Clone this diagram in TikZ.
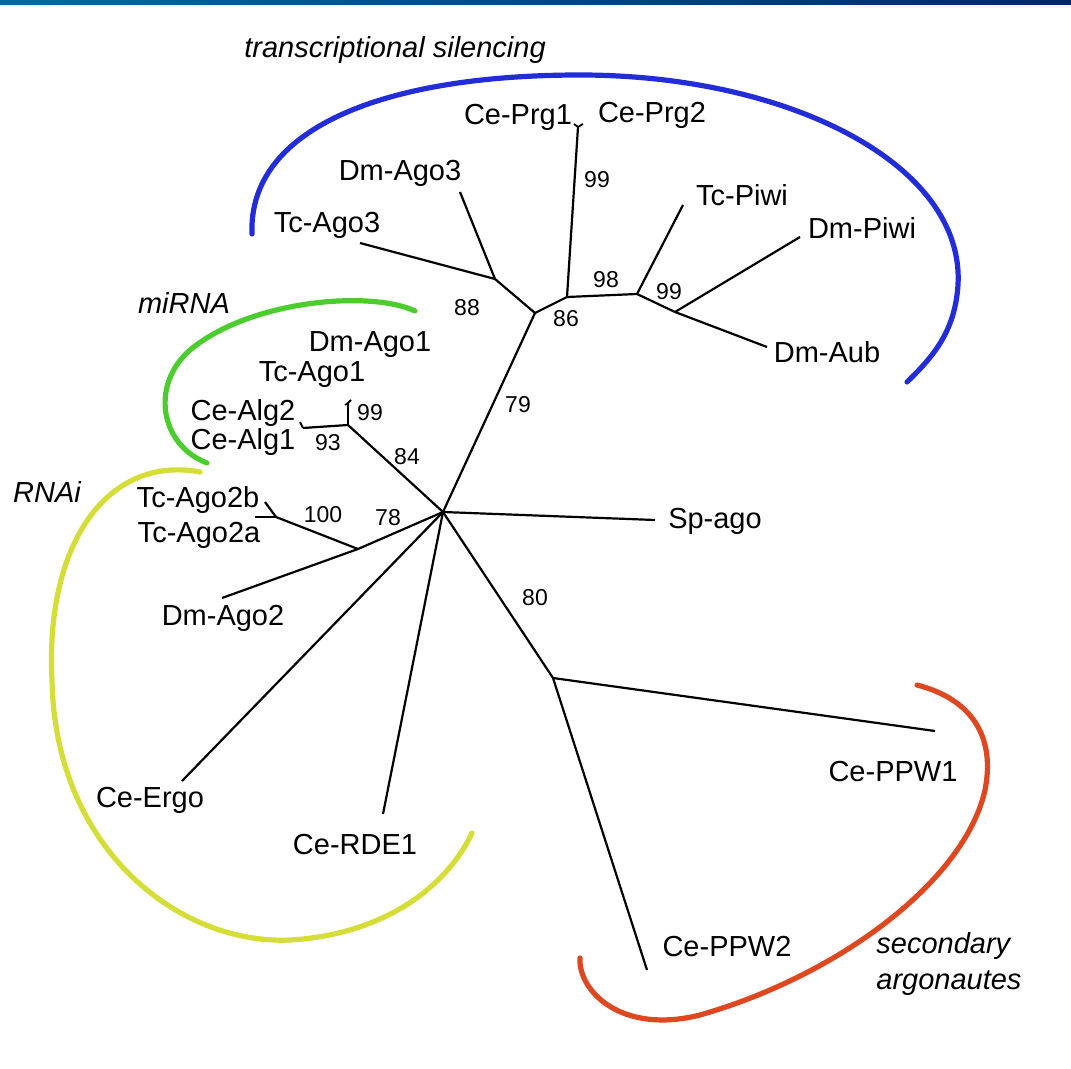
\documentclass[tikz,border=0pt]{standalone}
\usepackage{xcolor}
\usepackage{tikz}
\usepackage{fontspec}
\setmainfont{Liberation Sans}
\usetikzlibrary{calc,positioning}
\definecolor{barleft}{RGB}{0,108,158}
\definecolor{barright}{RGB}{0,38,104}
\definecolor{silblue}{RGB}{35,45,215}
\definecolor{mirgreen}{RGB}{75,205,45}
\definecolor{rnaiyellow}{RGB}{212,222,55}
\definecolor{secred}{RGB}{222,72,32}
\tikzset{%
  % Specifications for style of nodes:
  leaf/.style = {inner sep=0pt, font=\fontsize{14.5}{17}\selectfont},
  boot/.style = {inner sep=0pt, font=\fontsize{11.5}{14}\selectfont},
  clade/.style = {inner sep=0pt, align=left,
    font=\fontsize{14.5}{18}\selectfont\itshape},
  % Specifications for style of lines:
  branch/.style = {line width=1.1pt, line join=round},
  twig/.style = {line width=0.9pt},
  arcline/.style = {line width=2.6pt, line cap=round},
}

\begin{document}
\begin{tikzpicture}[x=0.5pt, y=-0.5pt]
        \fill[white] (0,0) rectangle (1071,1069);
        \shade[left color=barleft, right color=barright] (0,0) rectangle (1071,5);
        % Inner points of the tree
        \coordinate (root) at (443,512);
        \coordinate (n86) at (535,313);
        \coordinate (n88) at (495,279);
        \coordinate (n98) at (567,297);
        \coordinate (n99a) at (637,294);
        \coordinate (n99b) at (675,312);
        \coordinate (n84) at (348,425);
        \coordinate (n93) at (303,428);
        \coordinate (n99c) at (348,403);
        \coordinate (n78) at (358,549);
        \coordinate (n100) at (276,517);
        \coordinate (n80) at (553,678);
        \coordinate (nprg) at (578,127);
        % Tips of the branches
        \coordinate (tTcAgo3) at (360,243);
        \coordinate (tDmAgo3) at (460,192);
        \coordinate (tTcPiwi) at (683,205);
        \coordinate (tDmPiwi) at (800,237);
        \coordinate (tDmAub) at (767,347);
        \coordinate (tTcAgo2b) at (265,502);
        \coordinate (tTcAgo2a) at (255,517);
        \coordinate (tDmAgo2) at (222,598);
        \coordinate (tCeErgo) at (182,781);
        \coordinate (tCeRDE) at (383,814);
        \coordinate (tSpago) at (655,520);
        \coordinate (tPPW1) at (935,731);
        \coordinate (tPPW2) at (647,970);
        % Specification of nodes (position, etc.)
        \node (CePrgA) [leaf] at (518,117) {Ce-Prg1};
        \node (CePrgB) [leaf] at (652,115) {Ce-Prg2};
        \node (DmAgoC) [leaf] at (400,173) {Dm-Ago3};
        \node (TcAgoC) [leaf] at (327,225) {Tc-Ago3};
        \node (TcPiwi) [leaf] at (742,195) {Tc-Piwi};
        \node (DmPiwi) [leaf] at (862,228) {Dm-Piwi};
        \node (DmAub) [leaf] at (827,352) {Dm-Aub};
        \node (DmAgoA) [leaf] at (370,345) {Dm-Ago1};
        \node (TcAgoA) [leaf] at (312,375) {Tc-Ago1};
        \node (CeAlgB) [leaf] at (243,413) {Ce-Alg2};
        \node (CeAlgA) [leaf] at (243,442) {Ce-Alg1};
        \node (TcAgoBb) [leaf] at (198,500) {Tc-Ago2b};
        \node (TcAgoBa) [leaf] at (199,535) {Tc-Ago2a};
        \node (DmAgoB) [leaf] at (223,618) {Dm-Ago2};
        \node (CeErgo) [leaf] at (150,800) {Ce-Ergo};
        \node (CeRDE) [leaf] at (355,845) {Ce-RDE1};
        \node (Spago) [leaf] at (715,521) {Sp-ago};
        \node (CePPWA) [leaf] at (893,772) {Ce-PPW1};
        \node (CePPWB) [leaf] at (727,947) {Ce-PPW2};
        % Bootstrap values
        \node (bPrg) [boot] at (597,180) {99};
        \node (bAgoC) [boot] at (467,308) {88};
        \node (bPiwiAgo) [boot] at (566,319) {86};
        \node (bPiwi) [boot] at (606,280) {98};
        \node (bAub) [boot] at (669,292) {99};
        \node (bSil) [boot] at (518,405) {79};
        \node (bAgoA) [boot] at (370,413) {99};
        \node (bAlg) [boot] at (328,443) {93};
        \node (bMir) [boot] at (407,457) {84};
        \node (bAgoBb) [boot] at (323,515) {100};
        \node (bAgoB) [boot] at (388,518) {78};
        \node (bPPW) [boot] at (535,598) {80};
        % Groups
        \node (tsil) [clade] at (395,50) {transcriptional silencing};
        \node (mir) [clade] at (184,303) {miRNA};
        \node (rnai) [clade] at (47,492) {RNAi};
        \node (secarg) [clade, anchor=west] at (876,964) {secondary\\argonautes};
        % Branches
        \draw[branch] (root) -- (n86);
        \draw[branch] (n86) -- (n88);
        \draw[branch] (n86) -- (n98);
        \draw[branch] (n88) -- (tTcAgo3);
        \draw[branch] (n88) -- (tDmAgo3);
        \draw[branch] (n98) -- (nprg);
        \draw[twig] (nprg) -- ++(-4,-3);
        \draw[twig] (nprg) -- ++(5,-3);
        \draw[branch] (n98) -- (n99a);
        \draw[branch] (n99a) -- (tTcPiwi);
        \draw[branch] (n99a) -- (n99b);
        \draw[branch] (n99b) -- (tDmPiwi);
        \draw[branch] (n99b) -- (tDmAub);
        \draw[branch] (root) -- (n84);
        \draw[branch] (n84) -- (n99c);
        \draw[twig] (n99c) -- ++(-3,2);
        \draw[twig] (n99c) -- ++(3,-3);
        \draw[branch] (n84) -- (n93);
        \draw[twig] (n93) -- ++(-3,-6);
        \draw[branch] (root) -- (n78);
        \draw[branch] (n78) -- (n100);
        \draw[branch] (n100) -- (tTcAgo2b);
        \draw[branch] (n100) -- (tTcAgo2a);
        \draw[branch] (n78) -- (tDmAgo2);
        \draw[branch] (root) -- (tCeErgo);
        \draw[branch] (root) -- (tCeRDE);
        \draw[branch] (root) -- (tSpago);
        \draw[branch] (root) -- (n80);
        \draw[branch] (n80) -- (tPPW1);
        \draw[branch] (n80) -- (tPPW2);
        % Arcs round the groups
        \draw[arcline, silblue] (252,234) .. controls (248,130) and (380,75) .. (580,75)
          .. controls (790,75) and (965,165) .. (958,285)
          .. controls (955,330) and (935,355) .. (907,382);
        \draw[arcline, mirgreen] (415,311) .. controls (370,290) and (250,300) .. (190,350)
          .. controls (150,385) and (160,445) .. (207,463);
        \draw[arcline, rnaiyellow] (200,472) .. controls (110,455) and (45,540) .. (52,680)
          .. controls (55,850) and (180,945) .. (290,940)
          .. controls (380,935) and (445,890) .. (472,833);
        \draw[arcline, secred] (917,685) .. controls (975,700) and (995,740) .. (985,790)
          .. controls (965,880) and (840,975) .. (700,1015)
          .. controls (620,1035) and (578,990) .. (580,958);
    \end{tikzpicture}
\end{document}
